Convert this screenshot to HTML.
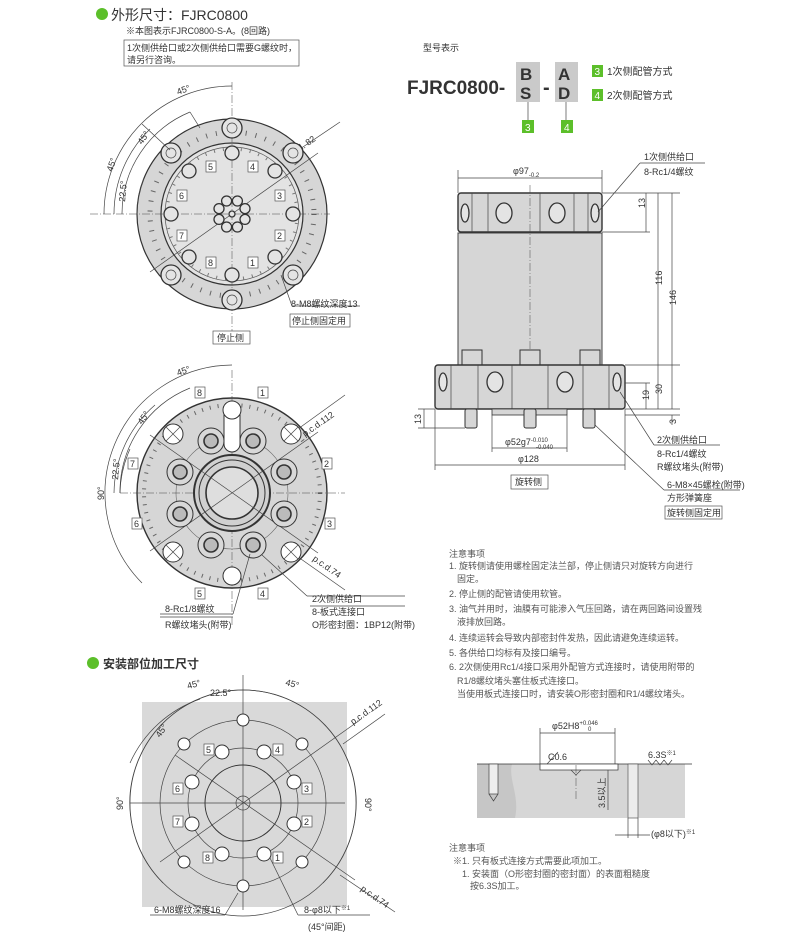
<!DOCTYPE html>
<html><head><meta charset="utf-8"><style>
html,body{margin:0;padding:0;background:#fff}
svg{display:block}
text{font-family:"Liberation Sans","Noto Sans CJK SC",sans-serif;fill:#333}
.s{font-size:9px}
.l{stroke:#444;stroke-width:0.7;fill:none}
.c{stroke:#444;stroke-width:0.5;fill:none;stroke-dasharray:8 2 1 2}
.h{stroke:#333;stroke-width:1.3;fill:#e4e4e4}
.w{stroke:#333;stroke-width:1;fill:#fff}
.bx{fill:#fff;stroke:#555;stroke-width:0.7}
.n text{fill:#555}
</style></head><body>
<svg width="802" height="939" viewBox="0 0 802 939" xmlns="http://www.w3.org/2000/svg">
<!-- header -->
<circle cx="102" cy="14" r="6" fill="#5cbf2a"/>
<text x="111" y="20" font-size="14" fill="#333">外形尺寸：FJRC0800</text>
<text x="126" y="34" class="s">※本图表示FJRC0800-S-A。(8回路)</text>
<rect x="124" y="40" width="175" height="26" class="bx"/>
<text x="127" y="51" class="s">1次侧供给口或2次侧供给口需要G螺纹时，</text>
<text x="127" y="63" class="s">请另行咨询。</text>

<!-- model code -->
<text x="423" y="51" class="s">型号表示</text>
<text x="407" y="94" font-size="19" font-weight="bold" fill="#333">FJRC0800-</text>
<rect x="516" y="62" width="24" height="40" fill="#cacaca"/>
<text x="520" y="80" font-size="17" font-weight="bold">B</text>
<text x="520" y="99" font-size="17" font-weight="bold">S</text>
<text x="543" y="94" font-size="20" font-weight="bold">-</text>
<rect x="555" y="62" width="23" height="40" fill="#cacaca"/>
<text x="558" y="80" font-size="17" font-weight="bold">A</text>
<text x="558" y="99" font-size="17" font-weight="bold">D</text>
<line x1="528" y1="102" x2="528" y2="120" class="l"/>
<line x1="566" y1="102" x2="566" y2="120" class="l"/>
<rect x="522" y="120" width="12" height="13" fill="#5cbf2a"/><text x="525" y="131" font-size="10" style="fill:#fff">3</text>
<rect x="561" y="120" width="12" height="13" fill="#5cbf2a"/><text x="564" y="131" font-size="10" style="fill:#fff">4</text>
<rect x="592" y="65" width="11" height="12" fill="#5cbf2a"/><text x="594.5" y="75" font-size="10" style="fill:#fff">3</text>
<text x="607" y="75" font-size="10">1次侧配管方式</text>
<rect x="592" y="89" width="11" height="12" fill="#5cbf2a"/><text x="594.5" y="99" font-size="10" style="fill:#fff">4</text>
<text x="607" y="99" font-size="10">2次侧配管方式</text>

<!-- TOP VIEW -->
<g>
<circle cx="232" cy="214" r="95" fill="#d6d6d6" stroke="#333" stroke-width="1.2"/>
<circle cx="232" cy="214" r="82" fill="none" stroke="#666" stroke-width="5" stroke-dasharray="1 9"/>
<circle cx="232" cy="214" r="71" fill="#e3e3e3" stroke="#333" stroke-width="1.2"/>
<circle cx="232" cy="214" r="67" fill="none" stroke="#555" stroke-width="0.7"/>
<circle cx="232" cy="214" r="65" fill="none" stroke="#777" stroke-width="3" stroke-dasharray="1 8"/>
<line x1="90" y1="214" x2="330" y2="214" class="c"/>
<line x1="232" y1="82" x2="232" y2="335" class="c"/>
<line x1="150" y1="272" x2="318" y2="153" class="l"/>
<text transform="translate(288,160) rotate(-35)" class="s">p.c.d. 82</text>
<line x1="294" y1="153" x2="340" y2="122" class="l"/>
<g class="h">
<circle cx="232" cy="128" r="10"/><circle cx="232" cy="300" r="10"/>
<circle cx="293" cy="153" r="10"/><circle cx="171" cy="153" r="10"/>
<circle cx="293" cy="275" r="10"/><circle cx="171" cy="275" r="10"/>
</g>
<g class="l">
<circle cx="232" cy="128" r="5"/><circle cx="232" cy="300" r="5"/>
<circle cx="293" cy="153" r="5"/><circle cx="171" cy="153" r="5"/>
<circle cx="293" cy="275" r="5"/><circle cx="171" cy="275" r="5"/>
</g>
<g class="h">
<circle cx="293" cy="214" r="7"/><circle cx="171" cy="214" r="7"/>
<circle cx="232" cy="153" r="7"/><circle cx="232" cy="275" r="7"/>
<circle cx="275" cy="171" r="7"/><circle cx="189" cy="171" r="7"/>
<circle cx="275" cy="257" r="7"/><circle cx="189" cy="257" r="7"/>
<circle cx="245" cy="208.6" r="5"/><circle cx="245" cy="219.4" r="5"/>
<circle cx="219" cy="208.6" r="5"/><circle cx="219" cy="219.4" r="5"/>
<circle cx="237.4" cy="201" r="5"/><circle cx="226.6" cy="201" r="5"/>
<circle cx="237.4" cy="227" r="5"/><circle cx="226.6" cy="227" r="5"/>
<circle cx="232" cy="214" r="3"/>
</g>
<g font-size="9">
<rect x="206" y="161" width="10" height="11" class="bx"/><text x="208" y="170">5</text>
<rect x="248" y="161" width="10" height="11" class="bx"/><text x="250" y="170">4</text>
<rect x="177" y="190" width="10" height="11" class="bx"/><text x="179" y="199">6</text>
<rect x="275" y="190" width="10" height="11" class="bx"/><text x="277" y="199">3</text>
<rect x="177" y="230" width="10" height="11" class="bx"/><text x="179" y="239">7</text>
<rect x="275" y="230" width="10" height="11" class="bx"/><text x="277" y="239">2</text>
<rect x="206" y="257" width="10" height="11" class="bx"/><text x="208" y="266">8</text>
<rect x="248" y="257" width="10" height="11" class="bx"/><text x="250" y="266">1</text>
</g>
<path d="M232,86 A128,128 0 0 0 104,214" class="l"/>
<path d="M190,112 A110,110 0 0 0 122,214" class="l"/>
<path d="M150,129 A118,118 0 0 0 114,214" class="l"/>
<path d="M144,178 A95,95 0 0 0 137,214" class="l"/>
<line x1="190" y1="112" x2="200" y2="128" class="l"/>
<line x1="142" y1="124" x2="170" y2="150" class="l"/>
<text transform="translate(178,95) rotate(-20)" class="s">45°</text>
<text transform="translate(142,145) rotate(-55)" class="s">45°</text>
<text transform="translate(112,172) rotate(-70)" class="s">45°</text>
<text transform="translate(125,202) rotate(-85)" class="s">22.5°</text>
<line x1="281" y1="275" x2="292" y2="306" class="l"/>
<line x1="292" y1="306" x2="360" y2="306" class="l"/>
<text x="291" y="309" class="s" dy="-2">8-M8螺纹深度13</text>
<rect x="290" y="314" width="60" height="13" class="bx"/>
<text x="292" y="324" class="s">停止侧固定用</text>
<rect x="213" y="331" width="37" height="13" class="bx"/>
<text x="217" y="341" class="s">停止侧</text>
</g>

<!-- MIDDLE VIEW -->
<g>
<circle cx="232" cy="493" r="95" fill="#d6d6d6" stroke="#333" stroke-width="1.4"/>
<circle cx="232" cy="493" r="88" fill="none" stroke="#666" stroke-width="4" stroke-dasharray="1 7"/>
<circle cx="232" cy="493" r="56" fill="none" stroke="#666" stroke-width="0.6"/>
<line x1="120" y1="493" x2="345" y2="493" class="c"/>
<line x1="232" y1="370" x2="232" y2="625" class="c"/>
<rect x="224" y="402" width="16" height="50" rx="8" class="w"/>
<circle cx="232" cy="493" r="38" fill="#d0d0d0" stroke="#333" stroke-width="2"/>
<circle cx="232" cy="493" r="33" fill="none" stroke="#333" stroke-width="1"/>
<circle cx="232" cy="493" r="26" fill="#dedede" stroke="#333" stroke-width="1.6"/>
<line x1="150" y1="551" x2="318" y2="432" class="l"/>
<line x1="150" y1="435" x2="318" y2="553" class="l"/>
<line x1="291" y1="434" x2="345" y2="395" class="l"/>
<line x1="291" y1="552" x2="345" y2="590" class="l"/>
<text transform="translate(305,437) rotate(-35)" class="s">p.c.d.112</text>
<text transform="translate(312,560) rotate(35)" class="s">p.c.d.74</text>
<g class="w">
<circle cx="232" cy="410" r="9"/><circle cx="232" cy="576" r="9"/>
<circle cx="291" cy="434" r="10"/><circle cx="173" cy="434" r="10"/>
<circle cx="291" cy="552" r="10"/><circle cx="173" cy="552" r="10"/>
</g>
<g class="l">
<path d="M284,427 l14,14 M298,427 l-14,14 M166,427 l14,14 M180,427 l-14,14 M284,545 l14,14 M298,545 l-14,14 M166,545 l14,14 M180,545 l-14,14"/>
</g>
<g fill="#d8d8d8" stroke="#333" stroke-width="1">
<circle cx="284" cy="472" r="13"/><circle cx="284" cy="514" r="13"/>
<circle cx="180" cy="472" r="13"/><circle cx="180" cy="514" r="13"/>
<circle cx="253" cy="441" r="13"/><circle cx="211" cy="441" r="13"/>
<circle cx="253" cy="545" r="13"/><circle cx="211" cy="545" r="13"/>
</g>
<g fill="#bbb" stroke="#333" stroke-width="1.6">
<circle cx="284" cy="472" r="7"/><circle cx="284" cy="514" r="7"/>
<circle cx="180" cy="472" r="7"/><circle cx="180" cy="514" r="7"/>
<circle cx="253" cy="441" r="7"/><circle cx="211" cy="441" r="7"/>
<circle cx="253" cy="545" r="7"/><circle cx="211" cy="545" r="7"/>
</g>
<g font-size="9">
<rect x="195" y="387" width="10" height="11" class="bx"/><text x="197" y="396">8</text>
<rect x="258" y="387" width="10" height="11" class="bx"/><text x="260" y="396">1</text>
<rect x="128" y="458" width="10" height="11" class="bx"/><text x="130" y="467">7</text>
<rect x="322" y="458" width="10" height="11" class="bx"/><text x="324" y="467">2</text>
<rect x="132" y="518" width="10" height="11" class="bx"/><text x="134" y="527">6</text>
<rect x="325" y="518" width="10" height="11" class="bx"/><text x="327" y="527">3</text>
<rect x="195" y="588" width="10" height="11" class="bx"/><text x="197" y="597">5</text>
<rect x="258" y="588" width="10" height="11" class="bx"/><text x="260" y="597">4</text>
</g>
<path d="M232,365 A128,128 0 0 0 142,583" class="l"/>
<path d="M190,388 A112,112 0 0 0 120,493" class="l"/>
<path d="M155,405 A118,118 0 0 0 114,493" class="l"/>
<path d="M130,449 A112,112 0 0 0 120,493" class="l"/>
<text transform="translate(178,376) rotate(-20)" class="s">45°</text>
<text transform="translate(142,425) rotate(-55)" class="s">45°</text>
<text transform="translate(118,480) rotate(-85)" class="s">22.5°</text>
<text transform="translate(104,500) rotate(-90)" class="s">90°</text>
<line x1="262" y1="555" x2="307" y2="596" class="l"/>
<line x1="307" y1="596" x2="405" y2="596" class="l"/>
<text x="312" y="602" class="s">2次侧供给口</text>
<line x1="310" y1="606" x2="405" y2="606" class="l"/>
<text x="312" y="615" class="s">8-板式连接口</text>
<text x="312" y="628" class="s">O形密封圈：1BP12(附带)</text>
<line x1="250" y1="554" x2="233" y2="614" class="l"/>
<line x1="160" y1="614" x2="233" y2="614" class="l"/>
<text x="165" y="612" class="s">8-Rc1/8螺纹</text>
<line x1="160" y1="617" x2="233" y2="617" class="l"/>
<text x="165" y="628" class="s">R螺纹堵头(附带)</text>
</g>

<!-- SIDE VIEW -->
<g>
<line x1="458" y1="178" x2="602" y2="178" class="l"/>
<line x1="458" y1="170" x2="458" y2="193" class="l"/><line x1="602" y1="170" x2="602" y2="193" class="l"/>
<text x="513" y="174" class="s">φ97<tspan font-size="6" dy="3">-0.2</tspan></text>
<rect x="458" y="233" width="144" height="132" fill="#d6d6d6" stroke="#444" stroke-width="1"/>
<rect x="458" y="193" width="144" height="39" rx="3" fill="#d6d6d6" stroke="#333" stroke-width="1.4"/>
<g class="l">
<line x1="472" y1="193" x2="472" y2="232"/><line x1="488" y1="193" x2="488" y2="232"/>
<line x1="540" y1="193" x2="540" y2="232"/><line x1="574" y1="193" x2="574" y2="232"/><line x1="588" y1="193" x2="588" y2="232"/>
</g>
<ellipse cx="504" cy="213" rx="8" ry="10" class="h"/>
<ellipse cx="557" cy="213" rx="8" ry="10" class="h"/>
<ellipse cx="465" cy="213" rx="4" ry="9" class="h"/>
<ellipse cx="595" cy="213" rx="4" ry="9" class="h"/>
<line x1="530" y1="185" x2="530" y2="425" class="c"/>
<g fill="#d6d6d6" stroke="#333" stroke-width="1">
<rect x="462" y="350" width="20" height="15"/><rect x="520" y="350" width="20" height="15"/><rect x="580" y="350" width="20" height="15"/>
</g>
<rect x="435" y="365" width="190" height="44" rx="3" fill="#d6d6d6" stroke="#333" stroke-width="1.4"/>
<g class="l">
<line x1="451" y1="365" x2="451" y2="409"/><line x1="478" y1="365" x2="478" y2="409"/>
<line x1="512" y1="365" x2="512" y2="409"/><line x1="548" y1="365" x2="548" y2="409"/>
<line x1="583" y1="365" x2="583" y2="409"/><line x1="609" y1="365" x2="609" y2="409"/>
</g>
<ellipse cx="495" cy="382" rx="8" ry="10" class="h"/>
<ellipse cx="565" cy="382" rx="8" ry="10" class="h"/>
<ellipse cx="443" cy="382" rx="4" ry="9" class="h"/>
<ellipse cx="617" cy="382" rx="4" ry="9" class="h"/>
<rect x="492" y="409" width="75" height="6" fill="#d6d6d6" stroke="#333" stroke-width="0.8"/>
<g fill="#d6d6d6" stroke="#333" stroke-width="1">
<rect x="465" y="409" width="12" height="19" rx="2"/><rect x="524" y="409" width="12" height="19" rx="2"/><rect x="583" y="409" width="12" height="19" rx="2"/>
</g>
<g class="l">
<line x1="602" y1="193" x2="680" y2="193"/><line x1="602" y1="232" x2="650" y2="232"/>
<line x1="625" y1="365" x2="680" y2="365"/><line x1="625" y1="383" x2="650" y2="383"/>
<line x1="625" y1="409" x2="680" y2="409"/><line x1="625" y1="415" x2="680" y2="415"/>
<line x1="646" y1="193" x2="646" y2="232"/><line x1="658" y1="193" x2="658" y2="365"/>
<line x1="672" y1="193" x2="672" y2="409"/><line x1="658" y1="365" x2="658" y2="409"/>
<line x1="646" y1="383" x2="646" y2="409"/><line x1="672" y1="415" x2="672" y2="425"/>
<line x1="418" y1="409" x2="435" y2="409"/><line x1="418" y1="428" x2="465" y2="428"/>
<line x1="424" y1="409" x2="424" y2="428"/>
<line x1="492" y1="415" x2="492" y2="452"/><line x1="567" y1="415" x2="567" y2="452"/>
<line x1="492" y1="448" x2="567" y2="448"/>
<line x1="435" y1="409" x2="435" y2="470"/><line x1="625" y1="409" x2="625" y2="470"/>
<line x1="435" y1="465" x2="625" y2="465"/>
</g>
<text transform="translate(645,208) rotate(-90)" class="s">13</text>
<text transform="translate(662,285) rotate(-90)" class="s">116</text>
<text transform="translate(676,305) rotate(-90)" class="s">146</text>
<text transform="translate(662,394) rotate(-90)" class="s">30</text>
<text transform="translate(649,400) rotate(-90)" class="s">19</text>
<text transform="translate(676,424) rotate(-90)" class="s">3</text>
<text transform="translate(421,424) rotate(-90)" class="s">13</text>
<text x="505" y="445" class="s">φ52g7<tspan font-size="6" dy="-3">-0.010</tspan></text>
<text x="536" y="449" font-size="6">-0.040</text>
<text x="518" y="462" class="s">φ128</text>
<rect x="511" y="475" width="37" height="14" class="bx"/>
<text x="515" y="485" class="s">旋转侧</text>
<line x1="598" y1="212" x2="640" y2="163" class="l"/>
<line x1="640" y1="163" x2="705" y2="163" class="l"/>
<text x="644" y="160" class="s">1次侧供给口</text>
<text x="644" y="175" class="s">8-Rc1/4螺纹</text>
<line x1="620" y1="392" x2="654" y2="445" class="l"/>
<line x1="654" y1="445" x2="720" y2="445" class="l"/>
<text x="657" y="443" class="s">2次侧供给口</text>
<text x="657" y="457" class="s">8-Rc1/4螺纹</text>
<text x="657" y="470" class="s">R螺纹堵头(附带)</text>
<line x1="595" y1="425" x2="664" y2="490" class="l"/>
<line x1="664" y1="490" x2="740" y2="490" class="l"/>
<text x="667" y="488" class="s">6-M8×45螺栓(附带)</text>
<text x="667" y="501" class="s">方形弹簧座</text>
<rect x="665" y="506" width="57" height="13" class="bx"/>
<text x="667" y="516" class="s">旋转侧固定用</text>
</g>

<!-- notes -->
<g class="s n">
<text x="449" y="557">注意事项</text>
<text x="449" y="569">1. 旋转侧请使用螺栓固定法兰部，停止侧请只对旋转方向进行</text>
<text x="457" y="582">固定。</text>
<text x="449" y="597">2. 停止侧的配管请使用软管。</text>
<text x="449" y="612">3. 油气并用时，油膜有可能渗入气压回路，请在两回路间设置残</text>
<text x="457" y="625">液排放回路。</text>
<text x="449" y="641">4. 连续运转会导致内部密封件发热，因此请避免连续运转。</text>
<text x="449" y="656">5. 各供给口均标有及接口编号。</text>
<text x="449" y="670">6. 2次侧使用Rc1/4接口采用外配管方式连接时，请使用附带的</text>
<text x="457" y="684">R1/8螺纹堵头塞住板式连接口。</text>
<text x="457" y="697">当使用板式连接口时，请安装O形密封圈和R1/4螺纹堵头。</text>
</g>

<!-- BOTTOM VIEW -->
<circle cx="93" cy="663" r="6" fill="#5cbf2a"/>
<text x="103" y="668" font-size="12" font-weight="bold">安装部位加工尺寸</text>
<g>
<rect x="142" y="702" width="205" height="205" fill="#d9d9d9"/>
<circle cx="243" cy="803" r="113" class="l"/>
<circle cx="243" cy="803" r="83" class="l"/>
<circle cx="243" cy="803" r="55" class="l"/>
<circle cx="243" cy="803" r="38" stroke="#333" stroke-width="1" fill="none"/>
<circle cx="243" cy="803" r="7" class="l"/>
<line x1="130" y1="803" x2="345" y2="803" class="l"/>
<line x1="243" y1="675" x2="243" y2="910" class="l"/>
<line x1="160" y1="862" x2="360" y2="720" class="l"/>
<line x1="175" y1="755" x2="355" y2="880" class="l"/>
<line x1="343" y1="744" x2="385" y2="714" class="l"/>
<line x1="340" y1="875" x2="395" y2="912" class="l"/>
<text transform="translate(353,725) rotate(-35)" class="s">p.c.d.112</text>
<text transform="translate(360,890) rotate(35)" class="s">p.c.d.74</text>
<g class="w" stroke-width="2.4">
<circle cx="243" cy="720" r="6"/><circle cx="243" cy="886" r="6"/>
<circle cx="302" cy="744" r="6"/><circle cx="184" cy="744" r="6"/>
<circle cx="302" cy="862" r="6"/><circle cx="184" cy="862" r="6"/>
</g>
<g class="w">
<circle cx="294" cy="782" r="7"/><circle cx="294" cy="824" r="7"/>
<circle cx="192" cy="782" r="7"/><circle cx="192" cy="824" r="7"/>
<circle cx="264" cy="752" r="7"/><circle cx="222" cy="752" r="7"/>
<circle cx="264" cy="854" r="7"/><circle cx="222" cy="854" r="7"/>
</g>
<g font-size="9">
<rect x="204" y="744" width="10" height="11" class="bx"/><text x="206" y="753">5</text>
<rect x="273" y="744" width="10" height="11" class="bx"/><text x="275" y="753">4</text>
<rect x="173" y="783" width="10" height="11" class="bx"/><text x="175" y="792">6</text>
<rect x="302" y="783" width="10" height="11" class="bx"/><text x="304" y="792">3</text>
<rect x="173" y="816" width="10" height="11" class="bx"/><text x="175" y="825">7</text>
<rect x="302" y="816" width="10" height="11" class="bx"/><text x="304" y="825">2</text>
<rect x="203" y="852" width="10" height="11" class="bx"/><text x="205" y="861">8</text>
<rect x="273" y="852" width="10" height="11" class="bx"/><text x="275" y="861">1</text>
</g>
<path d="M243,690 A113,113 0 0 0 163,883" class="l"/>
<path d="M243,690 A113,113 0 0 1 323,883" class="l"/>
<path d="M200,699 A120,120 0 0 0 130,763" class="l"/>
<text transform="translate(188,689) rotate(-15)" class="s">45°</text>
<text transform="translate(285,685) rotate(15)" class="s">45°</text>
<text x="210" y="696" class="s">22.5°</text>
<text transform="translate(160,738) rotate(-55)" class="s">45°</text>
<text transform="translate(123,810) rotate(-90)" class="s">90°</text>
<text transform="translate(365,798) rotate(90)" class="s">90°</text>
<line x1="238" y1="893" x2="225" y2="915" class="l"/>
<line x1="150" y1="915" x2="225" y2="915" class="l"/>
<text x="154" y="913" class="s">6-M8螺纹深度16</text>
<line x1="270" y1="858" x2="298" y2="915" class="l"/>
<line x1="298" y1="915" x2="370" y2="915" class="l"/>
<text x="304" y="913" class="s">8-φ8以下<tspan font-size="6" dy="-3">※1</tspan></text>
<text x="308" y="930" class="s">(45°间距)</text>
</g>

<!-- section detail -->
<g>
<line x1="540" y1="733" x2="615" y2="733" class="l"/>
<line x1="540" y1="728" x2="540" y2="764" class="l"/><line x1="615" y1="728" x2="615" y2="764" class="l"/>
<text x="552" y="729" class="s">φ52H8<tspan font-size="6" dy="-4">+0.046</tspan></text>
<text x="588" y="731" font-size="6">0</text>
<rect x="477" y="764" width="208" height="54" fill="#d6d6d6"/>
<path d="M477,764 L512,764 C508,780 520,795 515,818 L477,818 Z" fill="#c6c6c6"/>
<line x1="477" y1="764" x2="692" y2="764" stroke="#333" stroke-width="0.8"/>
<rect x="540" y="764" width="78" height="6" fill="#fff" stroke="#333" stroke-width="0.7"/>
<path d="M571,770 l5,5 l5,-5" class="l"/>
<line x1="576" y1="765" x2="576" y2="800" class="c"/>
<rect x="489" y="764" width="9" height="30" fill="#eee" stroke="#444" stroke-width="0.7"/>
<path d="M489,794 l4.5,7 l4.5,-7" class="l"/>
<rect x="628" y="764" width="10" height="54" fill="#ececec" stroke="#444" stroke-width="0.6"/>
<line x1="628" y1="818" x2="628" y2="838" class="l"/><line x1="638" y1="818" x2="638" y2="838" class="l"/>
<line x1="615" y1="835" x2="650" y2="835" class="l"/>
<text x="651" y="837" class="s">(φ8以下)<tspan font-size="6" dy="-3">※1</tspan></text>
<line x1="547" y1="764" x2="558" y2="752" class="l"/>
<text x="548" y="760" class="s">C0.6</text>
<line x1="608" y1="770" x2="608" y2="810" class="l"/>
<text transform="translate(605,808) rotate(-90)" class="s">3.5以上</text>
<text x="648" y="758" class="s">6.3S<tspan font-size="6" dy="-3">※1</tspan></text>
<path d="M648,760 l4,5 l4,-5 l4,5 l4,-5 l4,5 l4,-5" class="l"/>
</g>
<g class="s n">
<text x="449" y="851">注意事项</text>
<text x="453" y="864">※1. 只有板式连接方式需要此项加工。</text>
<text x="462" y="877">1. 安装面（O形密封圈的密封面）的表面粗糙度</text>
<text x="470" y="889">按6.3S加工。</text>
</g>
</svg>
</body></html>
